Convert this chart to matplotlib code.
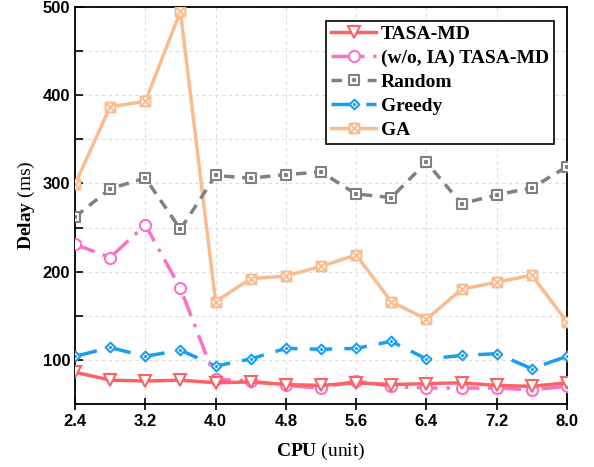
import matplotlib
matplotlib.use('Agg')
import matplotlib.pyplot as plt
import numpy as np
from matplotlib.path import Path

plt.rcParams['mathtext.fontset'] = 'custom'
plt.rcParams['mathtext.rm'] = 'Liberation Serif'
plt.rcParams['mathtext.bf'] = 'Liberation Serif:bold'

cpu = [2.4, 2.8, 3.2, 3.6, 4.0, 4.4, 4.8, 5.2, 5.6, 6.0, 6.4, 6.8, 7.2, 7.6, 8.0]
tasa_md = [86, 77, 76, 77, 74, 75, 72, 71, 74, 72, 73, 74, 71, 70, 74]
tasa_md_no_ia = [231, 216, 253, 181, 78, 76, 71, 68, 76, 70, 68, 68, 68, 66, 70]
random_ = [262, 294, 306, 248, 309, 306, 310, 313, 288, 284, 324, 277, 287, 295, 319]
greedy = [104, 114, 104, 111, 93, 101, 113, 112, 113, 121, 101, 105, 107, 90, 104]
ga = [299, 387, 393, 495, 166, 192, 195, 206, 219, 166, 146, 180, 188, 196, 143]

xticks = [2.4, 3.2, 4.0, 4.8, 5.6, 6.4, 7.2, 8.0]
yticks = [100, 200, 300, 400, 500]

# custom markers: square with a dot, diamond with a dot, square with X
sq = [(-1, -1), (1, -1), (1, 1), (-1, 1), (-1, -1)]
dot = [(-0.12, -0.12), (0.12, -0.12), (0.12, 0.12), (-0.12, 0.12), (-0.12, -0.12)]
dia = [(0, -1.3), (1.3, 0), (0, 1.3), (-1.3, 0), (0, -1.3)]
codes5 = [Path.MOVETO] + [Path.LINETO] * 3 + [Path.CLOSEPOLY]
sq_dot = Path(sq + dot, codes5 + codes5)
dia_dot = Path(dia + dot, codes5 + codes5)
sq_x = Path(sq + [(-1, -1), (1, 1), (-1, 1), (1, -1)],
            codes5 + [Path.MOVETO, Path.LINETO, Path.MOVETO, Path.LINETO])

c_red = '#FA6464'
c_pink = '#FF6EC7'
c_gray = '#808080'
c_blue = '#1A9EF0'
c_peach = '#F9BC8F'

fig = plt.figure(figsize=(5.94, 4.67), dpi=100)
ax = fig.add_axes([0.1263, 0.135, 0.8282, 0.85])

lw = 2.5
h_ga, = ax.plot(cpu, ga, color=c_peach, lw=lw, marker=sq_x, ms=7,
                mfc='white', mec=c_peach, mew=1.5, label='GA', zorder=3)
h_rand, = ax.plot(cpu, random_, color=c_gray, lw=lw, dashes=(3, 2.2), marker=sq_dot,
                  ms=6.5, mfc='white', mec=c_gray, mew=1.5, label='Random', zorder=3)
h_greedy, = ax.plot(cpu, greedy, color=c_blue, lw=lw, dashes=(6.5, 3.5), marker=dia_dot,
                    ms=7, mfc='white', mec=c_blue, mew=1.5, label='Greedy', zorder=4)
h_pink, = ax.plot(cpu, tasa_md_no_ia, color=c_pink, lw=lw, dashes=(6, 2.5, 1, 2.5),
                  marker='o', ms=8, mfc='white', mec=c_pink, mew=1.5,
                  label='(w/o, IA) TASA-MD', zorder=5)
h_red, = ax.plot(cpu, tasa_md, color=c_red, lw=lw, marker='v', ms=9,
                 mfc='white', mec=c_red, mew=1.5, label='TASA-MD', zorder=6)

ax.set_xlim(2.4, 8.0)
ax.set_ylim(50, 500)
ax.set_xticks(xticks)
ax.set_xticklabels([f'{t:.1f}' for t in xticks])
ax.set_yticks(yticks)
ax.set_yticks([150, 250, 350, 450], minor=True)
ax.tick_params(axis='x', direction='inout', length=8, width=1.2, top=False)
ax.tick_params(axis='y', which='both', direction='in', length=6, width=1.2, right=False)
for lab in ax.get_xticklabels() + ax.get_yticklabels():
    lab.set_fontfamily('Liberation Sans')
    lab.set_fontweight('bold')
    lab.set_fontsize(12)

ax.grid(True, which='major', axis='x', color='#dddddd', ls=(0, (3, 3)), lw=0.8)
ax.grid(True, which='both', axis='y', color='#dddddd', ls=(0, (3, 3)), lw=0.8)
ax.set_axisbelow(True)
for s in ax.spines.values():
    s.set_linewidth(1.3)

ax.set_xlabel(r'$\mathbf{CPU}$ (unit)', fontfamily='Liberation Serif', fontsize=14, labelpad=8)
ax.set_ylabel(r'$\mathbf{Delay}$ (ms)', fontfamily='Liberation Serif', fontsize=14, labelpad=4)

leg = ax.legend(handles=[h_red, h_pink, h_rand, h_greedy, h_ga], loc='upper right',
                bbox_to_anchor=(0.985, 0.98), fancybox=False, framealpha=1,
                edgecolor='black', handlelength=2.3, handletextpad=0.25,
                labelspacing=0.32, borderpad=0.25, borderaxespad=0.3,
                prop={'family': 'Liberation Serif', 'weight': 'bold', 'size': 14})
leg.get_frame().set_linewidth(1.2)

fig.savefig('out.png', dpi=100)
